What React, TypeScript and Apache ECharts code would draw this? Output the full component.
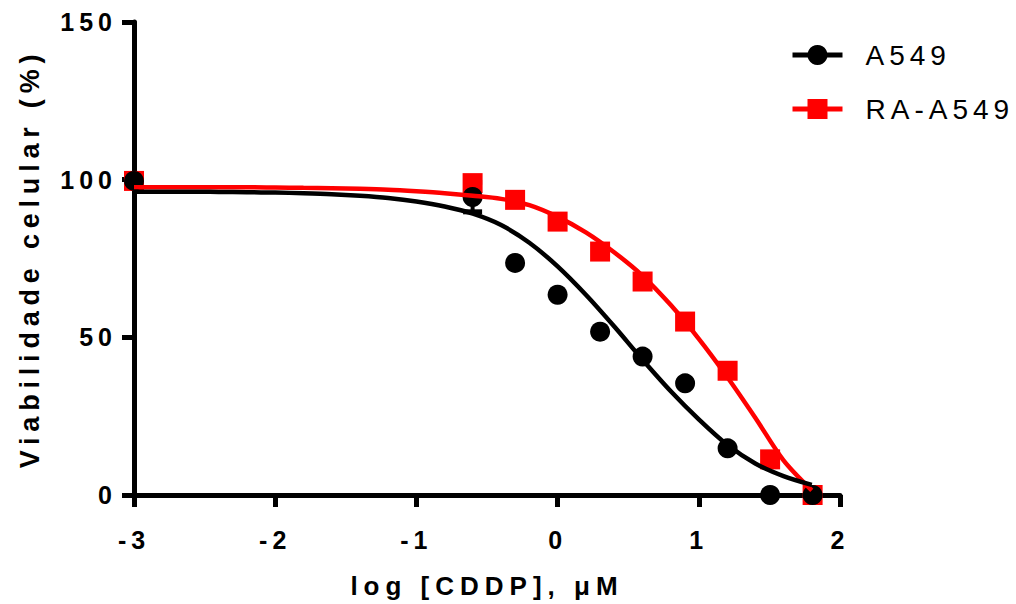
import React, { useEffect, useRef } from "react";
import * as echarts from "echarts";

// ---- data ----
const logDose = [-3, -0.602, -0.301, 0, 0.301, 0.602, 0.903, 1.204, 1.505, 1.806];
const a549Viability = [99.6, 94.5, 73.6, 63.5, 51.8, 43.9, 35.4, 14.8, 0, 0];
const raA549Viability = [99.6, 98.9, 93.6, 86.7, 77.2, 67.7, 55.0, 39.4, 11.3, 0];

const errorX = [-0.602];
const errorLow = [89.8];
const errorHigh = [99.2];

const curveX = [-3, -2.8, -2.6, -2.4, -2.2, -2, -1.8, -1.6, -1.4, -1.2, -1, -0.8, -0.6, -0.4, -0.2, 0, 0.2, 0.4, 0.6, 0.8, 1, 1.2, 1.4, 1.6, 1.8];
const a549Curve = [96.2, 96.2, 96.2, 96.1, 96.0, 95.9, 95.7, 95.4, 94.9, 94.2, 93.1, 91.5, 89.2, 85.6, 80.0, 72.5, 63.5, 53.5, 43.0, 33.0, 24.0, 16.0, 10.0, 6.0, 3.2];
const raA549Curve = [97.6, 97.6, 97.6, 97.6, 97.6, 97.5, 97.4, 97.3, 97.1, 96.8, 96.3, 95.7, 94.9, 93.9, 91.9, 88.2, 83.3, 77.0, 69.6, 60.3, 49.5, 37.5, 24.5, 11.0, 1.5];

const seriesNames = ["A549", "RA-A549"];
const xTitle = "log [CDDP], μM";
const yTitle = "Viabilidade celular (%)";

const FONT = '"Liberation Sans", Arial, sans-serif';

export default function App() {
  const ref = useRef<HTMLDivElement>(null);

  useEffect(() => {
    if (!ref.current) return;
    const chart = echarts.init(ref.current, undefined, { renderer: "svg" });

    const pts = (xs: number[], ys: number[]) => xs.map((x, i) => [x, ys[i]]);

    const option: any = {
      animation: false,
      backgroundColor: "#fff",
      grid: { left: 134, right: 176, top: 22, bottom: 109, outerBoundsMode: "none" },
      legend: {
        data: seriesNames,
        orient: "vertical",
        left: 785,
        top: 36,
        itemWidth: 50,
        itemHeight: 25,
        itemGap: 26,
        selectedMode: false,
        lineStyle: { width: 5 },
        textStyle: {
          fontSize: 28,
          lineHeight: 28,
          fontFamily: FONT,
          color: "#000",
          padding: [0, 0, 0, 18],
        },
      },
      xAxis: {
        type: "value",
        min: -3,
        max: 2,
        interval: 1,
        name: xTitle,
        nameLocation: "middle",
        nameGap: 78,
        nameTextStyle: { fontSize: 26, fontWeight: "bold", color: "#000", fontFamily: FONT },
        axisLine: { show: true, onZero: false, lineStyle: { color: "#000", width: 5 } },
        axisTick: { show: true, length: 12, lineStyle: { color: "#000", width: 5 } },
        axisLabel: { fontSize: 25, fontWeight: "bold", color: "#000", margin: 32, fontFamily: FONT },
        splitLine: { show: false },
      },
      yAxis: {
        type: "value",
        min: 0,
        max: 150,
        interval: 50,
        name: yTitle,
        nameLocation: "middle",
        nameGap: 91,
        nameTextStyle: { fontSize: 27, fontWeight: "bold", color: "#000", fontFamily: FONT },
        axisLine: { show: true, onZero: false, lineStyle: { color: "#000", width: 5 } },
        axisTick: { show: true, length: 12, lineStyle: { color: "#000", width: 5 } },
        axisLabel: { fontSize: 25, fontWeight: "bold", color: "#000", margin: 17, fontFamily: FONT },
        splitLine: { show: false },
      },
      series: [
        {
          name: "RA-A549",
          type: "line",
          data: pts(curveX, raA549Curve),
          smooth: 0.3,
          symbol: "rect",
          showSymbol: false,
          lineStyle: { color: "#ff0000", width: 4.5 },
          itemStyle: { color: "#ff0000" },
          silent: true,
        },
        {
          name: "RA-A549 data",
          type: "scatter",
          data: pts(logDose, raA549Viability),
          symbol: "rect",
          symbolSize: 20,
          itemStyle: { color: "#ff0000", opacity: 1 },
          silent: true,
        },
        {
          name: "A549",
          type: "line",
          data: pts(curveX, a549Curve),
          smooth: 0.3,
          symbol: "circle",
          showSymbol: false,
          lineStyle: { color: "#000", width: 4.5 },
          itemStyle: { color: "#000" },
          silent: true,
        },
        {
          name: "A549 SEM",
          type: "custom",
          data: errorX.map((x, i) => [x, errorLow[i], errorHigh[i]]),
          encode: { x: 0, y: [1, 2] },
          silent: true,
          renderItem: (params: any, api: any) => {
            const x = api.value(0);
            const lo = api.coord([x, api.value(1)]);
            const hi = api.coord([x, api.value(2)]);
            const half = 9.5;
            return {
              type: "group",
              children: [
                { type: "line", shape: { x1: lo[0], y1: lo[1], x2: hi[0], y2: hi[1] }, style: { stroke: "#000", lineWidth: 4 } },
                { type: "line", shape: { x1: lo[0] - half, y1: lo[1], x2: lo[0] + half, y2: lo[1] }, style: { stroke: "#000", lineWidth: 5 } },
                { type: "line", shape: { x1: hi[0] - half, y1: hi[1], x2: hi[0] + half, y2: hi[1] }, style: { stroke: "#000", lineWidth: 5 } },
              ],
            };
          },
        },
        {
          name: "A549 data",
          type: "scatter",
          data: pts(logDose, a549Viability),
          symbol: "circle",
          symbolSize: 20,
          itemStyle: { color: "#000", opacity: 1 },
          silent: true,
        },
      ],
    };

    chart.setOption(option);
    return () => chart.dispose();
  }, []);

  return (
    <>
      <style>{`
        #chart text[style*="25px"] { letter-spacing: 5px; }
        #chart text[style*="26px"] { letter-spacing: 6px; }
        #chart text[style*="27px"] { letter-spacing: 5.8px; }
        #chart text[style*="28px"] { letter-spacing: 5px; }
      `}</style>
      <div
        id="chart"
        ref={ref}
        style={{ position: "fixed", left: 0, top: 0, width: 1016, height: 604, background: "#fff" }}
      />
    </>
  );
}
